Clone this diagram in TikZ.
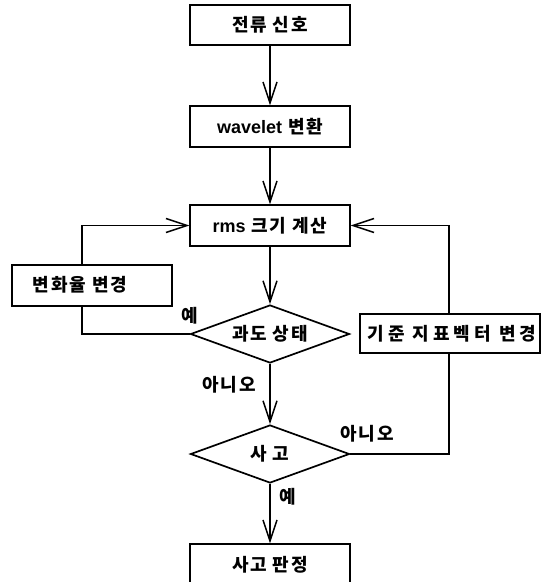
\documentclass[tikz,border=0pt]{standalone}
\usepackage{fontspec}
\newfontfamily\kr[LetterSpace=10]{Noto Sans CJK KR}
\newfontfamily\krwide[LetterSpace=22]{Noto Sans CJK KR}
\newfontfamily\lat{Liberation Sans}
\usetikzlibrary{shapes.geometric,arrows.meta}
\begin{document}
\begin{tikzpicture}[x=1pt,y=-1pt,
  every node/.style={font=\kr\bfseries\fontsize{18}{20}\selectfont},
  boxnode/.style={draw, line width=1.3pt, rectangle, minimum width=160pt, minimum height=41pt, inner sep=0pt},
  decide/.style={draw, line width=1.7pt, diamond, aspect=2.74, minimum width=159pt, minimum height=58pt, inner sep=0pt},
  flow/.style={line width=1.5pt, -{Straight Barb[length=21pt,width=14pt,line width=1.5pt]}},
  plain/.style={line width=1.5pt},
  lbl/.style={inner sep=0pt}]
\useasboundingbox (0,0) rectangle (547,582);
\clip (0,0) rectangle (547,582);
\node[boxnode, minimum height=40pt] (sig) at (270,25) {전류 신호};
\node[boxnode] (wav) at (270,126.5) {{\lat\bfseries wavelet} 변환};
\node[boxnode] (rms) at (270,225.5) {{\lat\bfseries rms} 크기 계산};
\node[decide] (tr) at (270,334) {과도 상태};
\node[decide] (acc) at (270,454) {사 고};
\node[boxnode] (res) at (270,564.5) {사고 판정};
\node[boxnode] (rate) at (92,285.5) {};
\node[lbl] (ratetxt) at (80,285) {변화율 변경};
\node[boxnode, minimum width=180pt, minimum height=39pt] (ref) at (450,333.5) {};
\node[lbl, font=\krwide\bfseries\fontsize{18}{20}\selectfont] (reftxt) at (452,333.5) {기준 지표벡터 변경};
\coordinate (lx) at (82,0);
\draw[flow] (sig) -- (wav);
\draw[flow] (wav) -- (rms);
\draw[flow] (rms) -- (tr);
\draw[flow] (tr) -- (acc);
\draw[flow] (acc) -- (res);
\draw[plain] (tr.west) -| (rate.south -| lx);
\draw[flow] (rate.north -| lx) |- (rms.west);
\draw[plain] (acc.east) -| ([xshift=-1pt]ref.south);
\draw[flow] ([xshift=-1pt]ref.north) |- (rms.east);
\node[lbl] (y1) at (190,316) {예};
\node[lbl] (n1) at (229,385) {아니오};
\node[lbl] (n2) at (367,434) {아니오};
\node[lbl] (y2) at (288,497) {예};
\end{tikzpicture}
\end{document}
